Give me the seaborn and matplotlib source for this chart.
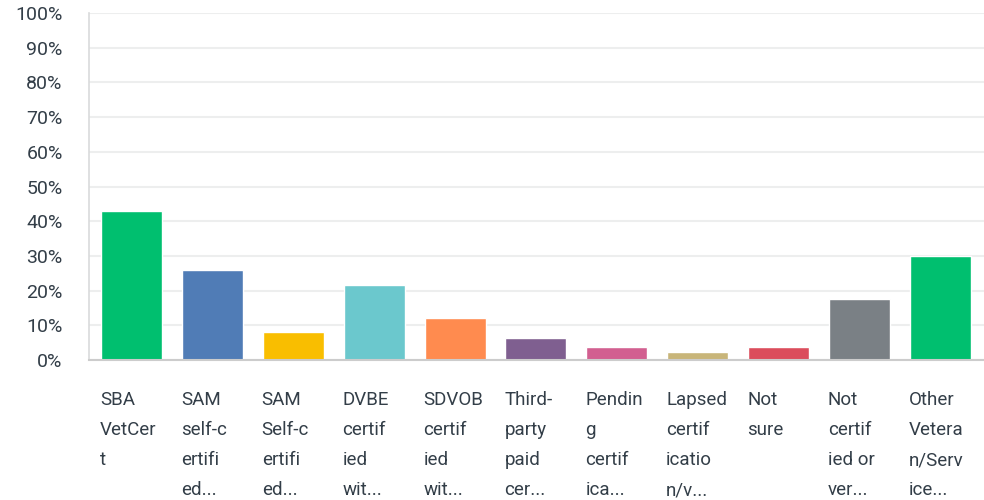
import matplotlib
matplotlib.use("Agg")
import matplotlib.pyplot as plt
import matplotlib.transforms as mtransforms
import seaborn as sns
import pandas as pd

# answer options (labels as truncated in the survey chart)
categories = [
    "SBA\nVetCer\nt",
    "SAM\nself-c\nertifi\ned...",
    "SAM\nSelf-c\nertifi\ned...",
    "DVBE\ncertif\nied\nwit...",
    "SDVOB\ncertif\nied\nwit...",
    "Third-\nparty\npaid\ncer...",
    "Pendin\ng\ncertif\nica...",
    "Lapsed\ncertif\nicatio\nn/v...",
    "Not\nsure",
    "Not\ncertif\nied or\nver...",
    "Other\nVetera\nn/Serv\nice...",
]
percent = [42.8, 26.0, 8.1, 21.7, 12.1, 6.4, 3.8, 2.3, 3.8, 17.6, 30.1]
colors = ["#00BF6F", "#507CB6", "#F9BE00", "#6BC8CD", "#FF8B4F", "#7F5F90",
          "#D25F90", "#C8B579", "#DB4D5C", "#7A8085", "#00BF6F"]

df = pd.DataFrame({"category": categories, "percent": percent})

sns.set_style("white")
plt.rcParams["font.family"] = ["Roboto", "DejaVu Sans"]
text_color = "#333E48"

fig = plt.figure(figsize=(9.84, 5), dpi=100)
ax = fig.add_axes([0.0905, 0.28, 0.9095, 0.694])

sns.barplot(data=df, x="category", y="percent", hue="category", palette=colors,
            legend=False, width=0.755, saturation=1, ax=ax)

ax.set_ylim(0, 100)
ax.set_xlim(-0.525, 10.54)
ax.set_yticks(range(0, 101, 10))
ax.set_yticklabels([f"{v}%" for v in range(0, 101, 10)], fontsize=14, color=text_color)
ax.tick_params(axis="y", length=0, pad=19)
ax.yaxis.grid(True, color="#EDEEEE", linewidth=1.5)
ax.set_axisbelow(True)

ax.set_xticks(range(len(categories)))
ax.set_xticklabels([])
ax.tick_params(axis="x", length=0)
ax.set_xlabel("")
ax.set_ylabel("")

for s in ["top", "right"]:
    ax.spines[s].set_visible(False)
ax.spines["left"].set_color("#D9DADB")
ax.spines["left"].set_linewidth(1.2)
ax.spines["bottom"].set_color("#CCCCCC")
ax.spines["bottom"].set_linewidth(1.5)

# wrapped labels, left aligned with each bar's left edge
trans = mtransforms.blended_transform_factory(ax.transData, ax.transAxes)
for i, lab in enumerate(categories):
    ax.text(i - 0.39, -0.088, lab, transform=trans, ha="left", va="top",
            fontsize=13.5, color=text_color, linespacing=1.88)

fig.savefig("out.png", dpi=100)
